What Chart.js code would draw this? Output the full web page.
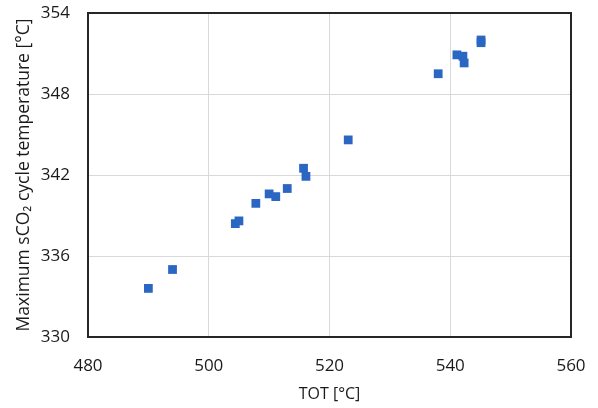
<!DOCTYPE html>
<html>
<head>
<meta charset="utf-8">
<script src="https://cdn.jsdelivr.net/npm/chart.js@4"></script>
<style>
  html, body { margin: 0; padding: 0; background: #fff; }
</style>
</head>
<body>
<canvas id="tempChart" width="598" height="408"></canvas>
<script>
// TOT vs maximum sCO2 cycle temperature
const totValues = [490.0, 494.0, 504.4, 505.0, 507.8, 510.0, 511.1, 513.0, 515.7, 516.1, 523.1, 538.0, 541.1, 542.1, 542.3, 545.1, 545.1];
const maxTempValues = [333.6, 335.0, 338.4, 338.6, 339.9, 340.6, 340.4, 341.0, 342.5, 341.9, 344.6, 349.5, 350.9, 350.8, 350.3, 352.0, 351.8];
const xTicks = [480, 500, 520, 540, 560];
const yTicks = [330, 336, 342, 348, 354];

const points = totValues.map((x, i) => ({ x: x, y: maxTempValues[i] }));

// Draw the dark frame around the plot area
const framePlugin = {
    id: 'frame',
    afterDatasetsDraw(chart) {
        const a = chart.chartArea;
        const ctx = chart.ctx;
        ctx.save();
        ctx.strokeStyle = '#262626';
        ctx.lineWidth = 2;
        ctx.strokeRect(a.left, a.top, a.right - a.left, a.bottom - a.top);
        ctx.restore();
    }
};

const fontFamily = "'Open Sans', 'Noto Sans', sans-serif";

new Chart(document.getElementById('tempChart'), {
    type: 'scatter',
    data: {
        datasets: [{
            data: points,
            pointStyle: 'rect',
            pointRadius: 6.2,
            pointHoverRadius: 6.2,
            backgroundColor: '#2a66c2',
            borderColor: '#2a66c2',
            borderWidth: 0
        }]
    },
    options: {
        responsive: false,
        animation: false,
        layout: { padding: { top: 13, right: 27, left: 0, bottom: 0 } },
        plugins: {
            legend: { display: false },
            tooltip: { enabled: false }
        },
        scales: {
            x: {
                type: 'linear',
                min: xTicks[0],
                max: xTicks[xTicks.length - 1],
                afterBuildTicks(scale) { scale.ticks = xTicks.map(v => ({ value: v })); },
                afterFit(scale) {
                    scale.height = 408 - 337;
                    scale.paddingLeft = 0;
                    scale.paddingRight = 0;
                },
                grid: { color: '#d9d9d9', lineWidth: 1, drawTicks: false },
                border: { display: false },
                ticks: { padding: 19, color: '#1a1a1a', font: { family: fontFamily, size: 17 } },
                title: {
                    display: true,
                    text: 'TOT [°C]',
                    color: '#1a1a1a',
                    font: { family: fontFamily, size: 16 },
                    padding: { top: 6, bottom: 4 }
                }
            },
            y: {
                type: 'linear',
                min: yTicks[0],
                max: yTicks[yTicks.length - 1],
                afterBuildTicks(scale) { scale.ticks = yTicks.map(v => ({ value: v })); },
                afterFit(scale) {
                    scale.width = 88;
                    scale.paddingTop = 0;
                    scale.paddingBottom = 0;
                },
                grid: { color: '#d9d9d9', lineWidth: 1, drawTicks: false },
                border: { display: false },
                ticks: { padding: 18, color: '#1a1a1a', font: { family: fontFamily, size: 17 } },
                title: {
                    display: true,
                    text: 'Maximum sCO\u2082 cycle temperature [°C]',
                    color: '#1a1a1a',
                    font: { family: fontFamily, size: 17.5 },
                    padding: { top: 14, bottom: 4 }
                }
            }
        }
    },
    plugins: [framePlugin]
});
</script>
</body>
</html>
